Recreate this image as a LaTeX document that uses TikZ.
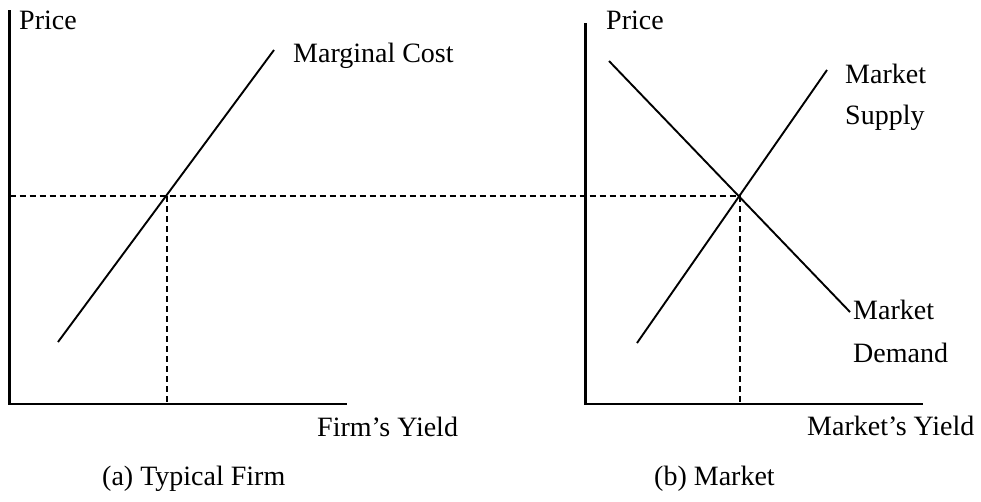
\documentclass[tikz,border=0pt]{standalone}
\usepackage{fontspec}
\setmainfont{Liberation Serif}
\begin{document}
\begin{tikzpicture}[x=1pt,y=-1pt,
  axis/.style={line width=2.2pt},
  curve/.style={line width=1.9pt},
  guide/.style={line width=1.8pt,dash pattern=on 6pt off 4pt},
  lbl/.style={inner sep=0pt,anchor=base west,font=\fontsize{28}{32}\selectfont}]
\useasboundingbox (0,0) rectangle (981,501);
% left panel coordinates
\coordinate (lyt) at (9.5,10);
\coordinate (lo) at (9.5,404);
\coordinate (lxe) at (347,404);
\coordinate (mc1) at (58,342);
\coordinate (mc2) at (274,50);
\coordinate (le) at (167,196);
\coordinate (leb) at (167,404);
\coordinate (hl) at (9.5,196);
% right panel coordinates
\coordinate (ryt) at (585.5,23);
\coordinate (ro) at (585.5,404);
\coordinate (rxe) at (923,404);
\coordinate (d1) at (609,61);
\coordinate (d2) at (850,312);
\coordinate (s1) at (637,343);
\coordinate (s2) at (827,70);
\coordinate (re) at (740,196);
\coordinate (reb) at (740,404);
% axes
\draw[axis] (lyt) -- (lo) -- (lxe);
\draw[axis] (ryt) -- (ro) -- (rxe);
% curves
\draw[curve] (mc1) -- (mc2);
\draw[curve] (d1) -- (d2);
\draw[curve] (s1) -- (s2);
% guides
\draw[guide] (hl) -- (re);
\draw[guide] (le) -- (leb);
\draw[guide] (re) -- (reb);
% labels
\node[lbl] (p1) at (19,29) {Price};
\node[lbl] (p2) at (606,29) {Price};
\node[lbl] (mc) at (293,62) {Marginal Cost};
\node[lbl] (ms1) at (845,83) {Market};
\node[lbl] (ms2) at (845,124) {Supply};
\node[lbl] (md1) at (853,319) {Market};
\node[lbl] (md2) at (853,362) {Demand};
\node[lbl] (fy) at (317,436) {Firm’s Yield};
\node[lbl] (my) at (807,435) {Market’s Yield};
\node[lbl] (ca) at (102,485) {(a) Typical Firm};
\node[lbl] (cb) at (654,485) {(b) Market};
\end{tikzpicture}
\end{document}
